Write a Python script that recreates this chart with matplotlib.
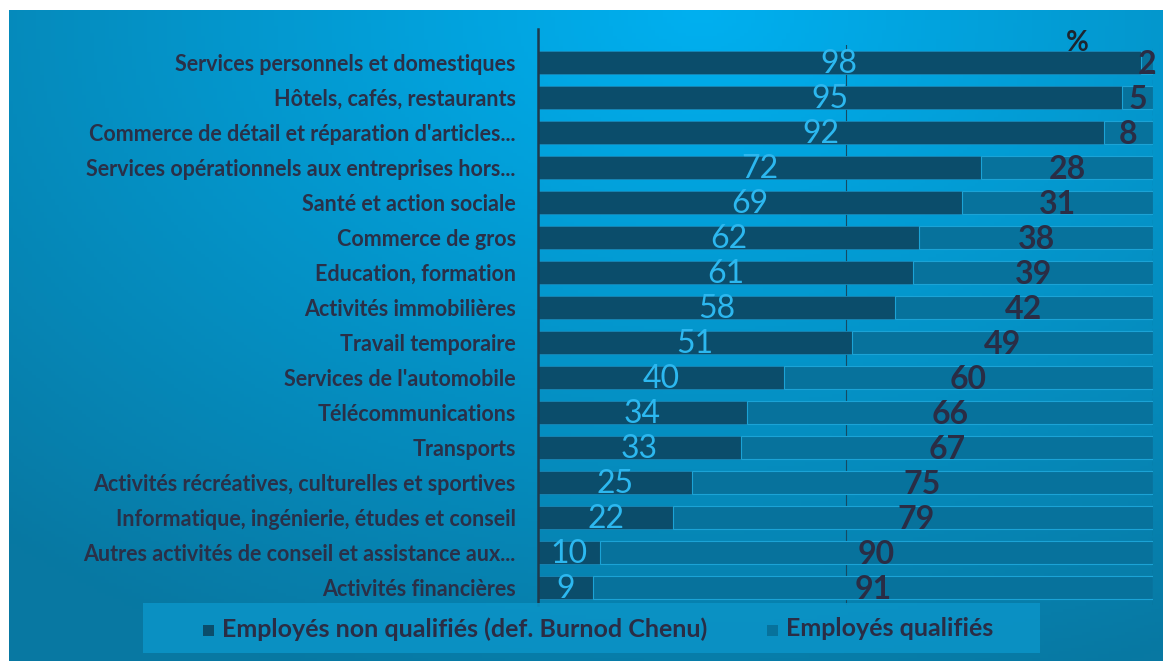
import matplotlib.pyplot as plt
import numpy as np
from matplotlib.patches import Rectangle

categories = ["Services personnels et domestiques", "Hôtels, cafés, restaurants",
              "Commerce de détail et réparation d'articles...",
              "Services opérationnels aux entreprises hors...",
              "Santé et action sociale", "Commerce de gros", "Education, formation",
              "Activités immobilières", "Travail temporaire", "Services de l'automobile",
              "Télécommunications", "Transports",
              "Activités récréatives, culturelles et sportives",
              "Informatique, ingénierie, études et conseil",
              "Autres activités de conseil et assistance aux...",
              "Activités financières"]
non_qualifies = [98, 95, 92, 72, 69, 62, 61, 58, 51, 40, 34, 33, 25, 22, 10, 9]
qualifies = [2, 5, 8, 28, 31, 38, 39, 42, 49, 60, 66, 67, 75, 79, 90, 91]

plt.rcParams['font.family'] = ['Lato', 'DejaVu Sans']

fig = plt.figure(figsize=(11.63, 6.61), dpi=100)

# gradient background panel
bg = fig.add_axes([9 / 1163, 0, 1 - 9 / 1163, 1 - 10 / 661])
bg.set_axis_off()
xx, yy = np.meshgrid(np.linspace(0, 1, 300), np.linspace(0, 1, 200))
d = np.sqrt(((xx - 0.6) / 0.9) ** 2 + ((yy - 0.0) / 1.1) ** 2)
d = np.clip(d, 0, 1)
c_in = np.array([0x00, 0xb0, 0xf0]) / 255
c_out = np.array([0x08, 0x78, 0xa2]) / 255
img = c_in[None, None, :] * (1 - d[..., None]) + c_out[None, None, :] * d[..., None]
bg.imshow(img, aspect='auto', extent=[0, 1, 1, 0], origin='upper')
bg.set_xlim(0, 1)
bg.set_ylim(1, 0)

ax = fig.add_axes([538 / 1163, 1 - 605 / 661, 615 / 1163, 560 / 661])
ax.patch.set_alpha(0)
y = np.arange(len(categories))
dark = '#0b4d6b'
light = '#07729c'
ax.axvline(50, color='#164a62', linewidth=0.8, zorder=0)
ax.axvline(100, color='#164a62', linewidth=0.8, linestyle=(0, (4, 3)), zorder=0)
ax.barh(y, non_qualifies, height=0.68, color=dark, edgecolor='#1a86b5', linewidth=0.6, zorder=2)
ax.barh(y, qualifies, left=non_qualifies, height=0.68, color=light,
        edgecolor='#1ba3d6', linewidth=0.8, zorder=2)

for i in range(len(categories)):
    ax.text(non_qualifies[i] / 2, y[i] + 0.05, str(non_qualifies[i]), ha='center', va='center',
            color='#2cb8f0', fontsize=23, zorder=3)
    ax.text(non_qualifies[i] + qualifies[i] / 2, y[i] + 0.05, str(qualifies[i]), ha='center',
            va='center', color='#2a2d45', fontsize=23, fontweight='bold', zorder=3, clip_on=False)

ax.set_xlim(0, 100)
ax.set_ylim(len(categories) - 0.5, -0.5)
ax.set_xticks([])
ax.set_yticks(y)
ax.set_yticklabels(categories, fontsize=15.5, fontweight='bold', color='#2a3048')
ax.tick_params(axis='y', length=0, pad=16)
for s in ['top', 'right', 'bottom']:
    ax.spines[s].set_visible(False)
ax.spines['left'].set_color('#1e3a4c')
ax.spines['left'].set_linewidth(1.8)
ax.spines['left'].set_bounds(-0.95, 15.5)

fig.text(1077 / 1163, 1 - 43 / 661, '%', ha='center', va='center', fontsize=20,
         fontweight='bold', color='#1d2530')

# legend box
fig.patches.append(Rectangle((143 / 1163, 1 - 653 / 661), (1040 - 143) / 1163, 50 / 661,
                             transform=fig.transFigure, facecolor='#0b93c6', edgecolor='none',
                             alpha=0.9, zorder=1))
fig.patches.append(Rectangle((203 / 1163, 1 - 636 / 661), 11 / 1163, 11 / 661,
                             transform=fig.transFigure, facecolor=dark, zorder=2))
fig.text(222 / 1163, 1 - 629 / 661, 'Employés non qualifiés (def. Burnod Chenu)', ha='left',
         va='center', fontsize=18, fontweight='bold', color='#2a2d45')
fig.patches.append(Rectangle((767 / 1163, 1 - 636 / 661), 11 / 1163, 11 / 661,
                             transform=fig.transFigure, facecolor=light, zorder=2))
fig.text(786 / 1163, 1 - 629 / 661, 'Employés qualifiés', ha='left', va='center',
         fontsize=18, fontweight='bold', color='#2a2d45')

fig.savefig('out.png', dpi=100)
